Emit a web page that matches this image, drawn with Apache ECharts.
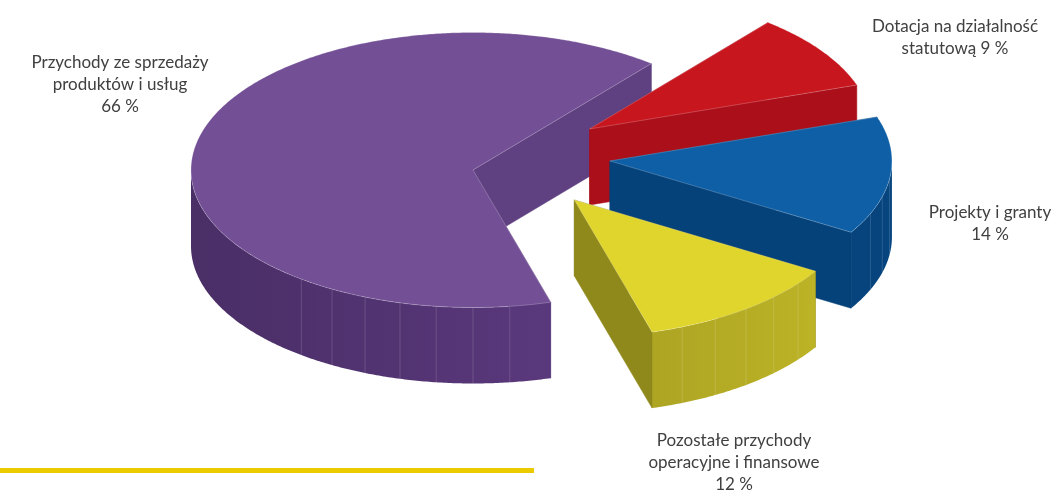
<!DOCTYPE html>
<html>
<head>
<meta charset="utf-8">
<script src="https://cdn.jsdelivr.net/npm/echarts/dist/echarts.min.js"></script>
<style>
html,body{margin:0;padding:0;background:#ffffff;}
#chart{width:1055px;height:490px;}
</style>
</head>
<body>
<div id="chart"></div>
<script>
// ---- data ----
const categories = [
  'Przychody ze sprzedaży\nproduktów i usług',
  'Dotacja na działalność\nstatutową',
  'Projekty i granty',
  'Pozostałe przychody\noperacyjne i finansowe'
];
const values = [66, 9, 14, 12];
const valueSeparator = ['\n', ' ', '\n', '\n'];

// ---- style / layout ----
const CX = 473, CY = 170, RX = 282, RY = 137.5, DEPTH = 76, START = 286;
const explodeDist = [0, 0.51, 0.49, 0.42];
const explodeDir = [0, 35.8, 7.7, -31.2];
const topColors = ['#734f95', '#c8161e', '#0e5fa6', '#e0d52c'];
const wallColors = ['#563677', '#a80f19', '#063c6f', '#a79f22'];
const faceColors = ['#5f4080', '#ab0f1a', '#06427a', '#8f881b'];
const labelPos = [[120, 85], [955, 38], [990, 224], [734, 463]];

const total = values.reduce((a, b) => a + b, 0);
const spans = values.map(v => v / total * 360);
const startA = [];
{ let acc = START; spans.forEach(s => { startA.push(acc); acc -= s; }); }

const rad = d => d * Math.PI / 180;
function shade(hex, f) {
  const n = parseInt(hex.slice(1), 16);
  let r = (n >> 16) & 255, g = (n >> 8) & 255, b = n & 255;
  r = Math.max(0, Math.min(255, Math.round(r * f)));
  g = Math.max(0, Math.min(255, Math.round(g * f)));
  b = Math.max(0, Math.min(255, Math.round(b * f)));
  return 'rgb(' + r + ',' + g + ',' + b + ')';
}

function renderItem(params, api) {
  const i = params.dataIndex;
  const v = api.value(0);
  const span = v / total * 360;
  const a0 = startA[i];
  const a1 = a0 - span;
  const ed = explodeDist[i], edir = rad(explodeDir[i]);
  const cx = CX + ed * Math.cos(edir) * RX;
  const cy = CY - ed * Math.sin(edir) * RY;
  const P = (t, h) => [cx + RX * Math.cos(rad(t)), cy - RY * Math.sin(rad(t)) + h];
  const arc = (t0, t1, h) => {
    const pts = [];
    const n = Math.max(2, Math.ceil(Math.abs(t1 - t0) / 0.5));
    for (let k = 0; k <= n; k++) pts.push(P(t0 + (t1 - t0) * k / n, h));
    return pts;
  };
  const children = [];
  const base = i * 100;
  const apex = [cx, cy];
  const apexB = [cx, cy + DEPTH];
  const face = (t, front) => ({
    type: 'polygon',
    z2: base + (front ? 30 : 1),
    shape: { points: [apex, P(t, 0), P(t, DEPTH), apexB] },
    style: { fill: faceColors[i], stroke: faceColors[i], lineWidth: 0.5 }
  });
  children.push(face(a0, Math.cos(rad(a0)) < 0));
  children.push(face(a1, Math.cos(rad(a1)) > 0));
  // outer wall: front-facing (sin<0) portions, one polygon each with a horizontal gradient
  const breaks = [a1, a0];
  for (let m = Math.ceil(a1 / 180) * 180; m < a0; m += 180) breaks.push(m);
  breaks.sort((x, y) => x - y);
  for (let k = 0; k < breaks.length - 1; k++) {
    const t0 = breaks[k], t1 = breaks[k + 1];
    if (t1 - t0 < 1e-6) continue;
    if (Math.sin(rad((t0 + t1) / 2)) >= 0) continue;
    const pts = arc(t0, t1, 0).concat(arc(t1, t0, DEPTH));
    const xs = pts.map(p => p[0]);
    const xmin = Math.min.apply(null, xs), xmax = Math.max.apply(null, xs);
    const stops = [];
    for (let s = 0; s <= 10; s++) {
      const x = xmin + (xmax - xmin) * s / 10;
      const c = Math.max(-1, Math.min(1, (x - cx) / RX));
      stops.push({ offset: s / 10, color: shade(wallColors[i], 1 + 0.144 * c) });
    }
    children.push({
      type: 'polygon', z2: base + 10,
      shape: { points: pts },
      style: { fill: { type: 'linear', x: 0, y: 0, x2: 1, y2: 0, colorStops: stops } }
    });
  }
  // facet lines
  const fstep = 7.5;
  for (let m = Math.ceil(a1 / fstep) * fstep; m < a0; m += fstep) {
    if (m - a1 < 2 || a0 - m < 2) continue;
    if (Math.sin(rad(m)) >= -0.05 || Math.cos(rad(m)) < -0.62) continue;
    const p = P(m, 0), q = P(m, DEPTH);
    children.push({
      type: 'line', z2: base + 11,
      shape: { x1: p[0], y1: p[1], x2: q[0], y2: q[1] },
      style: { stroke: 'rgba(255,255,255,0.18)', lineWidth: 0.8 }
    });
  }
  // top
  children.push({
    type: 'polygon', z2: base + 50,
    shape: { points: [apex].concat(arc(a1, a0, 0)) },
    style: { fill: topColors[i], stroke: 'rgba(255,255,255,0.28)', lineWidth: 0.8, lineJoin: 'round' }
  });
  // label
  children.push({
    type: 'text', z2: 1000,
    x: labelPos[i][0], y: labelPos[i][1],
    style: {
      text: categories[i] + valueSeparator[i] + v + ' %',
      fill: '#404040',
      font: '17px Lato',
      align: 'center',
      verticalAlign: 'middle',
      lineHeight: 22
    }
  });
  return { type: 'group', children: children };
}

const chart = echarts.init(document.getElementById('chart'), null, { renderer: 'canvas' });
chart.setOption({
  animation: false,
  backgroundColor: '#ffffff',
  series: [{
    type: 'custom',
    coordinateSystem: 'none',
    renderItem: renderItem,
    data: values.map((v, i) => ({ name: categories[i], value: [v] }))
  }],
  graphic: [{
    type: 'rect',
    left: 0, top: 468,
    shape: { width: 534, height: 5 },
    style: { fill: '#ebca00' }
  }]
});
</script>
</body>
</html>
